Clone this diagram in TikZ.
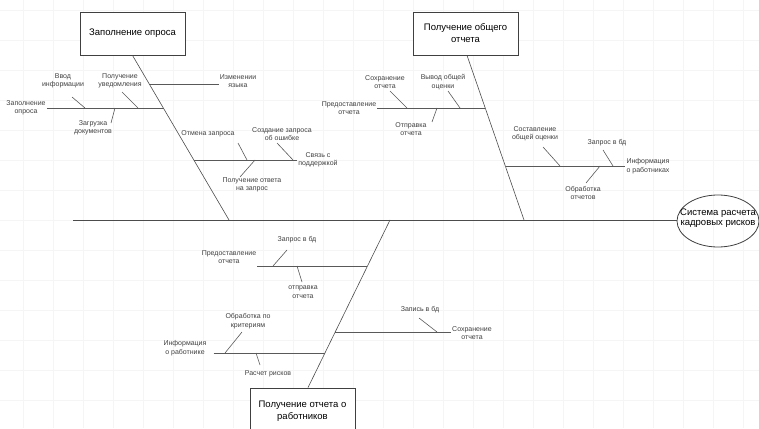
\documentclass[tikz,border=0pt]{standalone}
\usepackage{fontspec}
\setmainfont{Liberation Sans}
\usetikzlibrary{calc, shapes.geometric}

\begin{document}
\begin{tikzpicture}[x=1pt, y=-1pt,
            gridline/.style={draw=black!4, line width=0.4pt},
            spine/.style={draw=black!70, line width=0.9pt},
            bone/.style={draw=black!70, line width=0.6pt},
            rib/.style={draw=black!65, line width=0.9pt},
            tick/.style={draw=black!65, line width=0.6pt},
            cause/.style={draw=black!75, line width=0.8pt, fill=white, minimum width=105pt,
                minimum height=43pt, align=center, inner sep=2pt, font=\fontsize{9.5}{12}\selectfont},
            lbl/.style={align=center, inner sep=1pt, text=black!75, font=\fontsize{7}{8.5}\selectfont}
        ]

            \useasboundingbox (0,0) rectangle (759,428);
            \foreach \gx in {23,53,...,743} \draw[gridline] (\gx,0) -- (\gx,428);
            \foreach \gy in {10,40,...,420} \draw[gridline] (0,\gy) -- (759,\gy);

            % head and main spine
            \node[ellipse, draw=black!75, line width=0.8pt, minimum width=82pt, minimum height=52pt, inner sep=0pt] (eff) at (718,221) {};
            \node[align=center, inner sep=0pt, font=\fontsize{9.5}{10.5}\selectfont] (efflbl) at (718,218) {Система расчета\\кадровых рисков};
            \coordinate (tail) at (73,220);
            \draw[spine] (tail) -- (tail -| eff.west);

            % Заполнение опроса
            \node[cause] (z1) at (132.5,33.5) {Заполнение опроса};
            \coordinate (s1) at (229,220);
            \draw[bone] (z1.south) -- (s1);

            \coordinate (b11) at (164,108);
            \coordinate (b15) at (150,84);
            \coordinate (b18) at (194,160);
            \node[lbl] (l11) at (26,108) {Заполнение\\опроса};
            \node[lbl] (l12) at (63,81) {Ввод\\информации};
            \node[lbl] (l13) at (120,81) {Получение\\уведомления};
            \node[lbl] (l14) at (93,128) {Загрузка\\документов};
            \node[lbl] (l15) at (238,81) {Изменении\\языка};
            \node[lbl] (l16) at (208,134) {Отмена запроса};
            \node[lbl] (l17) at (282,134) {Создание запроса\\об ошибке};
            \node[lbl] (l18) at (318,160) {Связь с\\поддержкой};
            \node[lbl] (l19) at (252,185) {Получение ответа\\на запрос};

            \draw[rib] (l11.east |- b11) -- (b11);
            \draw[rib] (b15) -- (b15 -| l15.west);
            \draw[rib] (b18) -- (b18 -| l18.west);

            \coordinate (t12) at (72,97);   \coordinate (p12) at (85,108);
            \coordinate (t13) at (122,92);  \coordinate (p13) at (138,108);
            \coordinate (t14) at (111,123); \coordinate (p14) at (115,108);
            \coordinate (t16) at (238,143); \coordinate (p16) at (247,160);
            \coordinate (t17) at (277,143); \coordinate (p17) at (293,160);
            \coordinate (t19) at (240,177); \coordinate (p19) at (255,160);
            \foreach \k in {12,13,14,16,17,19}
                \draw[tick] (t\k) -- (p\k);

            % Получение общего отчета
            \node[cause] (z2) at (465.5,33.5) {Получение общего\\отчета};
            \coordinate (s2) at (524,220);
            \draw[bone] ([xshift=1.5pt]z2.south) -- (s2);

            \coordinate (b21) at (485,108);
            \coordinate (b27) at (506,166);
            \node[lbl] (l21) at (349,108) {Предоставление\\отчета};
            \node[lbl] (l22) at (385,82) {Сохранение\\отчета};
            \node[lbl] (l23) at (443,82) {Вывод общей\\оценки};
            \node[lbl] (l24) at (411,129) {Отправка\\отчета};
            \node[lbl] (l25) at (535,134) {Составление\\общей оценки};
            \node[lbl] (l26) at (607,143) {Запрос в бд};
            \node[lbl] (l27) at (648,166) {Информация\\о работниках};
            \node[lbl] (l28) at (583,193) {Обработка\\отчетов};

            \draw[rib] (l21.east |- b21) -- (b21);
            \draw[rib] (b27) -- (b27 -| l27.west);

            \coordinate (t22) at (390,91);  \coordinate (p22) at (407,108);
            \coordinate (t23) at (448,91);  \coordinate (p23) at (460,108);
            \coordinate (t24) at (432,122); \coordinate (p24) at (437,108);
            \coordinate (t25) at (543,147); \coordinate (p25) at (560,166);
            \coordinate (t26) at (603,150); \coordinate (p26) at (613,166);
            \coordinate (t28) at (586,183); \coordinate (p28) at (600,166);
            \foreach \k in {22,23,24,25,26,28}
                \draw[tick] (t\k) -- (p\k);

            % Получение отчета о работников
            \node[cause, minimum height=46pt] (z3) at (302.5,411) {Получение отчета о\\работников};
            \coordinate (s3) at (390,220);
            \draw[bone] ([xshift=5.5pt]z3.north) -- (s3);

            \coordinate (b31) at (367,266);
            \coordinate (b34) at (325,353);
            \coordinate (b38) at (335,332);
            \node[lbl] (l31) at (229,257) {Предоставление\\отчета};
            \node[lbl] (l32) at (297,240) {Запрос в бд};
            \node[lbl] (l33) at (303,292) {отправка\\отчета};
            \node[lbl] (l34) at (185,348) {Информация\\о работнике};
            \node[lbl] (l35) at (248,321) {Обработка по\\критериям};
            \node[lbl] (l36) at (268,374) {Расчет рисков};
            \node[lbl] (l37) at (420,310) {Запись в бд};
            \node[lbl] (l38) at (472,333) {Сохранение\\отчета};

            \draw[rib] (l31.east |- b31) -- (b31);
            \draw[rib] ([xshift=6pt]l34.east |- b34) -- (b34);
            \draw[rib] (b38) -- (b38 -| l38.west);

            \coordinate (t32) at (287,250); \coordinate (p32) at (273,266);
            \coordinate (t33) at (302,282); \coordinate (p33) at (297,266);
            \coordinate (t35) at (242,332); \coordinate (p35) at (225,353);
            \coordinate (t36) at (260,365); \coordinate (p36) at (256,353);
            \coordinate (t37) at (419,318); \coordinate (p37) at (437,332);
            \foreach \k in {32,33,35,36,37}
                \draw[tick] (t\k) -- (p\k);

        \end{tikzpicture}
\end{document}
